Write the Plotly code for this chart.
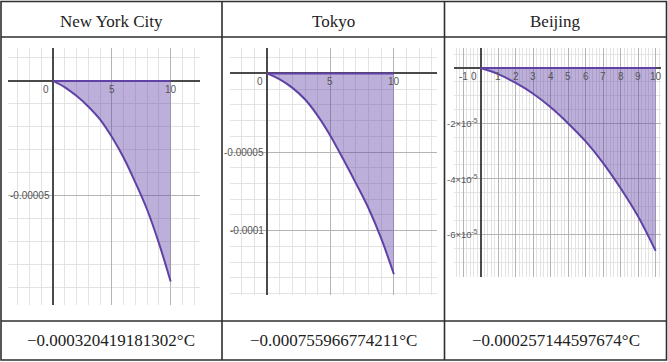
import plotly.graph_objects as go

W, H = 668, 362

# ---------------- data (values in °C) ----------------
x_vals = [0, 1, 2, 3, 4, 5, 6, 7, 8, 9, 10]
nyc_y = [0, -0.28e-5, -0.66e-5, -1.12e-5, -1.68e-5, -2.44e-5, -3.34e-5, -4.42e-5, -5.60e-5, -7.05e-5, -8.72e-5]
tokyo_y = [0, -0.38e-5, -0.92e-5, -1.66e-5, -2.70e-5, -3.98e-5, -5.45e-5, -6.98e-5, -8.58e-5, -10.5e-5, -12.78e-5]
beijing_y = [0, -0.22e-5, -0.54e-5, -0.93e-5, -1.42e-5, -2.00e-5, -2.65e-5, -3.43e-5, -4.34e-5, -5.36e-5, -6.60e-5]

cities = ["New York City", "Tokyo", "Beijing"]
results = ["\u22120.000320419181302\u00b0C", "\u22120.000755966774211\u00b0C", "\u22120.000257144597674\u00b0C"]

nyc_xticks = [5, 10]
nyc_yticks = [-0.00005]
nyc_ylabels = ["-0.00005"]
tokyo_xticks = [5, 10]
tokyo_yticks = [-0.00005, -0.0001]
tokyo_ylabels = ["-0.00005", "-0.0001"]
beijing_xticks = [-1, 1, 2, 3, 4, 5, 6, 7, 8, 9, 10]
beijing_yticks = [-2e-5, -4e-5, -6e-5]
beijing_ylabels = ["-2\u00d710<sup>-5</sup>", "-4\u00d710<sup>-5</sup>", "-6\u00d710<sup>-5</sup>"]

# ---------------- styling ----------------
LINE = "#6042a6"
FILL = "rgba(96,66,166,0.42)"
MAJOR = "#b4b4b4"
MINOR = "#e3e3e3"
AXIS = "#4a4a4a"
LBL = "#555555"
SANS = "Liberation Sans, Arial, sans-serif"
SERIF = "Liberation Serif, Times New Roman, serif"


def px(x):
    return x / W


def py(y):
    return 1 - y / H


panels = [
    dict(ys=nyc_y, xdom=(8, 200), ydom=(48, 305), xr=(-3.85, 12.5), yr=(-9.74e-5, 1.43e-5),
         xmaj=5, xmin=1, ymaj=5e-5, ymin=1e-5,
         xt=nyc_xticks, yt=nyc_yticks, yl=nyc_ylabels),
    dict(ys=tokyo_y, xdom=(230.3, 437), ydom=(48.3, 295), xr=(-2.9, 13.4), yr=(-14.1e-5, 1.6e-5),
         xmaj=5, xmin=1, ymaj=5e-5, ymin=1e-5,
         xt=tokyo_xticks, yt=tokyo_yticks, yl=tokyo_ylabels),
    dict(ys=beijing_y, xdom=(454, 660.7), ydom=(48.3, 276.7), xr=(-1.53, 10.29), yr=(-7.53e-5, 0.71e-5),
         xmaj=1, xmin=0.2, ymaj=2e-5, ymin=0.5e-5,
         xt=beijing_xticks, yt=beijing_yticks, yl=beijing_ylabels),
]

fig = go.Figure()
layout = {}
annotations = []

for i, p in enumerate(panels, start=1):
    xa = "x" if i == 1 else f"x{i}"
    ya = "y" if i == 1 else f"y{i}"
    # filled region between curve and zero
    fig.add_trace(go.Scatter(x=x_vals, y=p["ys"], mode="lines", fill="tozeroy",
                             fillcolor=FILL, line=dict(color=LINE, width=2, shape="spline"),
                             xaxis=xa, yaxis=ya, hoverinfo="skip", showlegend=False))
    # upper edge of the region along y = 0
    fig.add_trace(go.Scatter(x=[x_vals[0], x_vals[-1]], y=[0, 0], mode="lines",
                             line=dict(color=LINE, width=2),
                             xaxis=xa, yaxis=ya, hoverinfo="skip", showlegend=False))

    common = dict(showticklabels=False, ticks="", showline=False, zeroline=True,
                  zerolinecolor=AXIS, zerolinewidth=1.5, gridwidth=1, gridcolor=MAJOR,
                  tick0=0, fixedrange=True)
    layout[f"xaxis{'' if i == 1 else i}"] = dict(
        common, domain=[px(p["xdom"][0]), px(p["xdom"][1])], range=list(p["xr"]),
        dtick=p["xmaj"], anchor=ya,
        minor=dict(dtick=p["xmin"], tick0=0, showgrid=True, gridcolor=MINOR, gridwidth=1))
    layout[f"yaxis{'' if i == 1 else i}"] = dict(
        common, domain=[py(p["ydom"][1]), py(p["ydom"][0])], range=list(p["yr"]),
        dtick=p["ymaj"], anchor=xa,
        minor=dict(dtick=p["ymin"], tick0=0, showgrid=True, gridcolor=MINOR, gridwidth=1))

    # tick labels placed next to the axes, Desmos style
    for v in p["xt"]:
        annotations.append(dict(x=v, y=0, xref=xa, yref=ya, text=str(v), showarrow=False,
                                xanchor="center", yanchor="top", yshift=-1,
                                font=dict(family=SANS, size=10, color=LBL)))
    annotations.append(dict(x=0, y=0, xref=xa, yref=ya, text="0", showarrow=False,
                            xanchor="right", yanchor="top", xshift=-2, yshift=-1,
                            font=dict(family=SANS, size=10, color=LBL)))
    for v, t in zip(p["yt"], p["yl"]):
        annotations.append(dict(x=0, y=v, xref=xa, yref=ya, text=t, showarrow=False,
                                xanchor="right", yanchor="middle", xshift=-1,
                                font=dict(family=SANS, size=9.5 if i == 3 else 10, color=LBL)))

# table text
col_centers = [111, 333.5, 555.5]
for c, name, res in zip(col_centers, cities, results):
    annotations.append(dict(x=px(c), y=py(21), xref="paper", yref="paper", text=name,
                            showarrow=False, xanchor="center", yanchor="middle",
                            font=dict(family=SERIF, size=17, color="#222222")))
    annotations.append(dict(x=px(c), y=py(340), xref="paper", yref="paper", text=res,
                            showarrow=False, xanchor="center", yanchor="middle",
                            font=dict(family=SERIF, size=17, color="#222222")))

# table borders
B = dict(color="#2e2e2e", width=1.6)
shapes = [
    dict(type="rect", xref="paper", yref="paper", x0=px(1), x1=px(666.5), y0=py(360), y1=py(1.5), line=B),
    dict(type="line", xref="paper", yref="paper", x0=px(1), x1=px(666.5), y0=py(37), y1=py(37), line=B),
    dict(type="line", xref="paper", yref="paper", x0=px(1), x1=px(666.5), y0=py(321), y1=py(321), line=B),
    dict(type="line", xref="paper", yref="paper", x0=px(222), x1=px(222), y0=py(360), y1=py(1.5), line=B),
    dict(type="line", xref="paper", yref="paper", x0=px(444.5), x1=px(444.5), y0=py(360), y1=py(1.5), line=B),
]

fig.update_layout(width=W, height=H, margin=dict(l=0, r=0, t=0, b=0),
                  paper_bgcolor="white", plot_bgcolor="white", showlegend=False,
                  annotations=annotations, shapes=shapes, **layout)

fig.write_html("out.html", config={"displayModeBar": False},
               post_script="document.body.style.margin='0';document.body.style.overflow='hidden';")
